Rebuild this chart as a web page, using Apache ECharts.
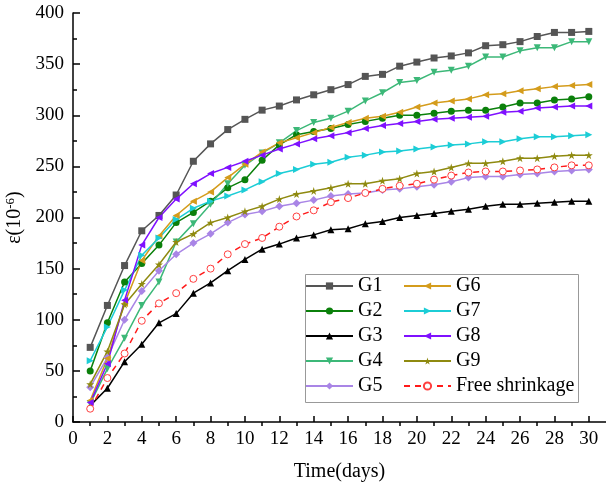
<!DOCTYPE html>
<html><head><meta charset="utf-8">
<script src="https://cdn.jsdelivr.net/npm/echarts@6/dist/echarts.min.js"></script>
<style>html,body{margin:0;padding:0;background:#fff}#c{width:606px;height:485px}</style>
</head><body><div id="c"></div>
<script>
const days = [1,2,3,4,5,6,7,8,9,10,11,12,13,14,15,16,17,18,19,20,21,22,23,24,25,26,27,28,29,30];
const G1 = [73,114,153,187,202,222,255,272,286,296,305,309,315,320,325,330,338,340,348,352,356,358,361,368,369,372,377,381,381,382];
const G2 = [50,97,137,155,173,195,205,216,229,237,256,271,281,284,287,291,294,297,300,300,302,304,305,305,308,312,312,315,316,318];
const G3 = [16,33,59,76,97,106,126,136,148,159,169,174,180,183,188,189,194,196,200,202,204,206,208,211,213,213,214,215,216,216];
const G4 = [18,52,82,114,137,176,194,213,233,251,263,273,285,293,297,304,314,322,332,334,342,344,348,357,357,363,366,366,372,372];
const G5 = [34,63,100,128,148,164,175,184,195,203,206,211,214,217,221,223,224,227,228,230,232,235,239,240,240,242,243,245,246,247];
const G6 = [21,62,116,158,182,202,216,225,239,252,264,273,278,283,288,293,297,299,303,308,312,314,316,320,321,324,326,328,329,330];
const G7 = [60,93,129,163,180,198,209,216,221,227,235,243,247,252,254,259,261,264,265,267,269,271,272,274,274,277,279,279,280,281];
const G8 = [19,57,119,173,200,218,233,243,249,255,261,267,272,277,280,283,287,290,292,294,296,297,298,299,303,304,307,308,309,309];
const G9 = [37,69,115,135,154,176,184,195,200,206,211,218,223,226,229,233,233,236,238,243,245,249,253,253,255,258,258,260,261,261];
const FREE = [13,43,67,99,116,126,140,150,164,174,180,191,201,207,215,219,224,228,231,233,237,241,244,245,245,246,247,249,251,251];
const xMajorTicks = [0,2,4,6,8,10,12,14,16,18,20,22,24,26,28,30];
const xMinorTicks = [1,3,5,7,9,11,13,15,17,19,21,23,25,27,29];
const yTicks = [0,50,100,150,200,250,300,350,400];

const FONT = 'Liberation Serif';
const STAR = 'path://M50,0 L61,35 L98,35 L68,57 L79,91 L50,70 L21,91 L32,57 L2,35 L39,35 Z';
const LEFT = 'path://M0,50 L100,0 L100,100 Z';
const RIGHT = 'path://M100,50 L0,0 L0,100 Z';
const DOWN = 'path://M0,0 L100,0 L50,100 Z';
const UP = 'path://M50,0 L100,100 L0,100 Z';

function pairs(arr){ return days.map((d,i)=>[d,arr[i]]); }
function mk(name, data, color, symbol, size, extra){
  return Object.assign({
    name, type:'line', data:pairs(data), symbol, symbolSize:size, showAllSymbol:true,
    lineStyle:{color, width:1.5}, itemStyle:{color}, color, animation:false, z:2
  }, extra||{});
}
const series = [
  mk('G1', G1, '#555555', 'rect', 7),
  mk('G2', G2, '#0b800b', 'circle', 7),
  mk('G3', G3, '#000000', UP, 7),
  mk('G4', G4, '#3cb878', DOWN, 7),
  mk('G5', G5, '#a985e6', 'diamond', 8),
  mk('G6', G6, '#d49c1c', LEFT, 7),
  mk('G7', G7, '#1ccdd6', RIGHT, 7),
  mk('G8', G8, '#7f10ff', LEFT, 7),
  mk('G9', G9, '#8f8a10', STAR, 8),
  mk('Free shrinkage', FREE, '#ff1a1a', 'circle', 7, {
    lineStyle:{color:'#ff1a1a', width:1.5, type:[6,5]},
    itemStyle:{color:'#ffffff', borderColor:'#ff4040', borderWidth:1}
  })
];

const chart = echarts.init(document.getElementById('c'), null, {renderer:'canvas'});
const legendCommon = {
  orient:'vertical', itemWidth:47, itemHeight:9, itemGap:5, top:276, padding:0,
  textStyle:{fontFamily:FONT, fontSize:20, color:'#000'}, selectedMode:false
};
chart.setOption({
  backgroundColor:'#fff',
  animation:false,
  grid:{left:73, right:0, top:13, bottom:63, containLabel:false, outerBoundsMode:'none'},
  xAxis:[{
    type:'value', min:0, max:31, interval:1,
    name:'Time(days)', nameLocation:'middle', nameGap:40,
    nameTextStyle:{fontFamily:FONT, fontSize:20, color:'#000'},
    axisLine:{lineStyle:{color:'#000', width:1.5}},
    axisTick:{inside:true, length:6, customValues:xMajorTicks, lineStyle:{color:'#000', width:1.5}},
    axisLabel:{customValues:xMajorTicks, fontFamily:FONT, fontSize:19, color:'#000', margin:8},
    splitLine:{show:false}
  },{
    type:'value', min:0, max:31, interval:1, position:'bottom',
    axisLine:{show:false},
    axisTick:{inside:false, length:4, customValues:xMinorTicks, lineStyle:{color:'#000', width:1.5}},
    axisLabel:{show:false},
    splitLine:{show:false}
  }],
  yAxis:{
    type:'value', min:0, max:400, interval:50,
    name:'{a|ε(10}{s|-6}{a|)}', nameLocation:'middle', nameGap:46, nameRotate:90,
    nameTextStyle:{rich:{
      a:{fontFamily:FONT, fontSize:20, color:'#000', lineHeight:22},
      s:{fontFamily:FONT, fontSize:13, color:'#000', verticalAlign:'top', lineHeight:22}
    }},
    axisLine:{show:true, lineStyle:{color:'#000', width:1.5}},
    axisTick:{inside:true, length:7, lineStyle:{color:'#000', width:1.5}},
    minorTick:{show:true, splitNumber:2, length:4, lineStyle:{color:'#000', width:1.5}},
    axisLabel:{customValues:yTicks, fontFamily:FONT, fontSize:19, color:'#000', margin:9},
    splitLine:{show:false}
  },
  legend:[
    Object.assign({}, legendCommon, {left:305, data:['G1','G2','G3','G4','G5']}),
    Object.assign({}, legendCommon, {left:403, data:['G6','G7','G8','G9','Free shrinkage']})
  ],
  graphic:[{
    type:'rect', left:303, top:272, shape:{width:273, height:128},
    style:{fill:null, stroke:'#999', lineWidth:1}, z:100, silent:true
  }],
  series
});
</script></body></html>
